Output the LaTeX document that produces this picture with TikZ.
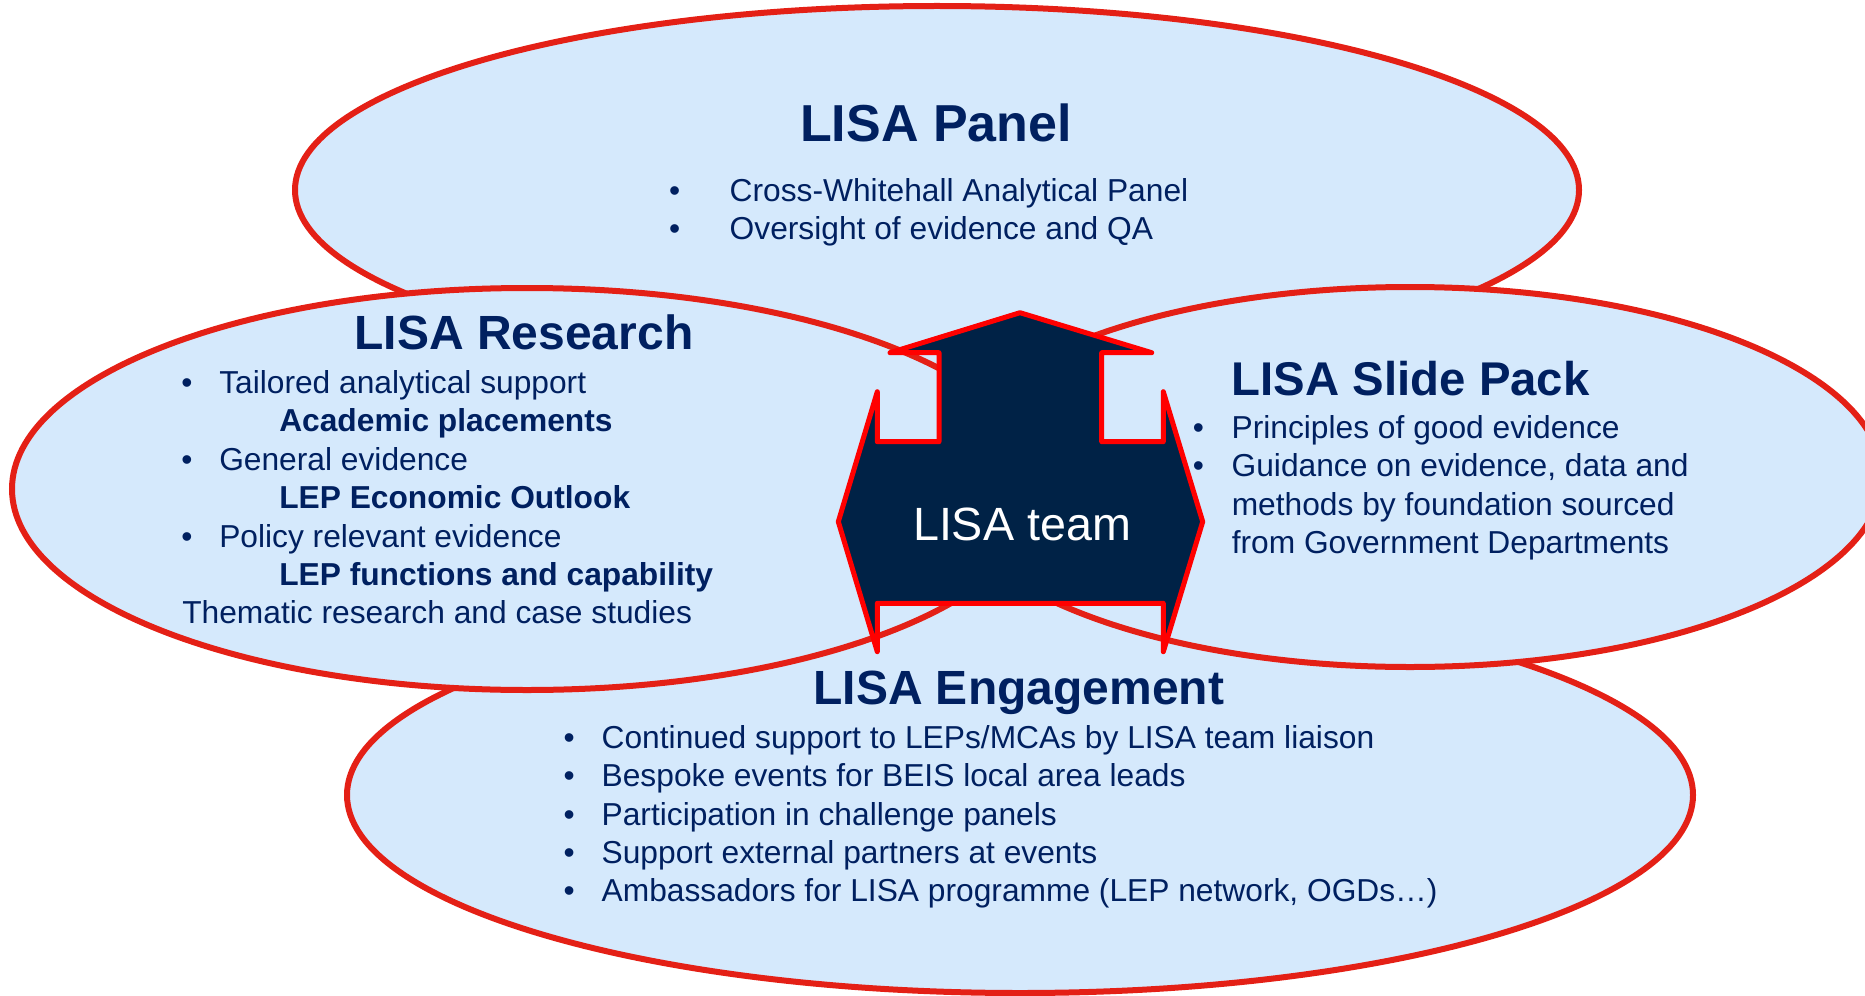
\documentclass[tikz,border=0pt]{standalone}
\usepackage{fontspec}
\setmainfont{Liberation Sans}

\definecolor{lisanavy}{RGB}{0,32,96}
\definecolor{lisasky}{RGB}{213,233,252}
\definecolor{lisared}{RGB}{228,32,22}
\definecolor{teamfill}{RGB}{0,34,70}

% bullet kept in a box of fixed width, so the item text lines up
\newcommand{\lisabul}[1]{\makebox[#1][l]{\textbullet}}

\begin{document}
\begin{tikzpicture}[x=0.75pt,y=0.75pt,yscale=-1,xscale=1,
  lisaoval/.style={draw=lisared,fill=lisasky,line width=4.5pt},
  teamshape/.style={draw=red,fill=teamfill,line width=3.75pt,line join=round},
  headtext/.style={anchor=base,inner sep=0pt,text=lisanavy,font=\fontsize{36}{42}\selectfont\bfseries},
  bodytext/.style={anchor=base west,inner sep=0pt,text=lisanavy,font=\fontsize{23.8}{28}\selectfont},
  boldtext/.style={bodytext,font=\fontsize{23.8}{28}\selectfont\bfseries}]
\useasboundingbox (0,0) rectangle (1865,995);
\clip (0,0) rectangle (1865,995);

%Shape: Ellipse [panel]
\draw [lisaoval] (937,190) ellipse [x radius=642, y radius=184];
%Shape: Ellipse [engagement]
\draw [lisaoval] (1020,795) ellipse [x radius=673, y radius=198];
%Shape: Ellipse [research]
\draw [lisaoval] (527,489) ellipse [x radius=515, y radius=201];
%Shape: Ellipse [slide pack]
\draw [lisaoval] (1410,477) ellipse [x radius=472, y radius=190];

%Shape: Left-Right-Up Arrow
\draw [teamshape] (1020,312.7) -- (1151.7,352.7) -- (1101.7,352.7) -- (1101.7,441.7) -- (1163.3,441.7) -- (1163.3,391.7) -- (1202.7,521.7) -- (1163.3,651.7) -- (1163.3,603.3) -- (877.3,603.3) -- (877.3,651.7) -- (838.3,521.7) -- (877.3,391.7) -- (877.3,441.7) -- (939,441.7) -- (939,352.7) -- (890,352.7) -- cycle ;

% Text Node
\draw (1022,540.7) node [anchor=base][inner sep=0pt][text=white,font=\fontsize{35}{40}\selectfont] (team) {LISA team};

% Text Node
\draw (936,141.7) node [headtext,font=\fontsize{39}{44}\selectfont\bfseries] (panelhead) {LISA Panel};
% Text Node
\draw (668.8,201) node [bodytext] (panel1) {\lisabul{45.5pt}Cross-Whitehall Analytical Panel};
% Text Node
\draw (668.8,239.5) node [bodytext] (panel2) {\lisabul{45.5pt}Oversight of evidence and QA};

% Text Node
\draw (524,349.5) node [headtext] (researchhead) {LISA Research};
% Text Node
\draw (181,393.5) node [bodytext] (research1) {\lisabul{28.5pt}Tailored analytical support};
% Text Node
\draw (279,431.5) node [boldtext] (research2) {Academic placements};
% Text Node
\draw (181,470) node [bodytext] (research3) {\lisabul{28.5pt}General evidence};
% Text Node
\draw (279,508) node [boldtext] (research4) {LEP Economic Outlook};
% Text Node
\draw (181,547) node [bodytext] (research5) {\lisabul{28.5pt}Policy relevant evidence};
% Text Node
\draw (279,585) node [boldtext] (research6) {LEP functions and capability};
% Text Node
\draw (182,623) node [bodytext] (research7) {Thematic research and case studies};

% Text Node
\draw (1231.5,395) node [headtext,anchor=base west,font=\fontsize{35.5}{40}\selectfont\bfseries] (slidehead) {LISA Slide Pack};
% Text Node
\draw (1192.7,438.5) node [bodytext] (slide1) {\lisabul{29pt}Principles of good evidence};
% Text Node
\draw (1192.7,476.5) node [bodytext] (slide2) {\lisabul{29pt}Guidance on evidence, data and};
% Text Node
\draw (1231.5,515) node [bodytext] (slide3) {methods by foundation sourced};
% Text Node
\draw (1231.5,553.5) node [bodytext] (slide4) {from Government Departments};

% Text Node
\draw (1018.7,704) node [headtext] (engagehead) {LISA Engagement};
% Text Node
\draw (563.3,748) node [bodytext] (engage1) {\lisabul{28.6pt}Continued support to LEPs/MCAs by LISA team liaison};
% Text Node
\draw (563.3,786.5) node [bodytext] (engage2) {\lisabul{28.6pt}Bespoke events for BEIS local area leads};
% Text Node
\draw (563.3,825) node [bodytext] (engage3) {\lisabul{28.6pt}Participation in challenge panels};
% Text Node
\draw (563.3,863) node [bodytext] (engage4) {\lisabul{28.6pt}Support external partners at events};
% Text Node
\draw (563.3,901.5) node [bodytext] (engage5) {\lisabul{28.6pt}Ambassadors for LISA programme (LEP network, OGDs…)};

\end{tikzpicture}
\end{document}
